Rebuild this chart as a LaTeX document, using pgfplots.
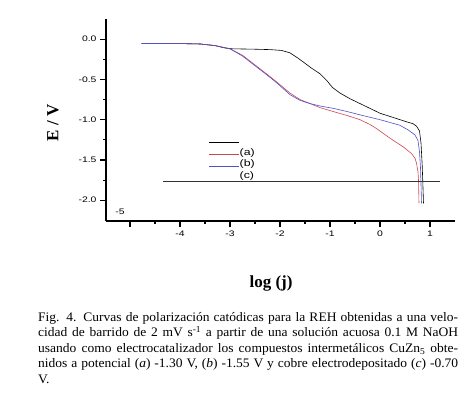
\documentclass[border=0pt]{standalone}
\usepackage{fontspec}
\setmainfont{Liberation Serif}
\newfontfamily\tickfont[FakeStretch=1.3]{Liberation Sans}
\newfontfamily\capfont[FakeStretch=1.04]{Liberation Serif}
\usepackage{pgfplots}
\pgfplotsset{compat=1.18}
\definecolor{cred}{RGB}{205,70,80}
\definecolor{cblue}{RGB}{80,80,200}
\newcommand{\capline}[1]{\makebox[420pt][s]{#1}}
\begin{document}
\begin{tikzpicture}
\useasboundingbox (0,0) rectangle (474pt,-399pt);
\begin{axis}[
  at={(106pt,-221pt)}, anchor=south west,
  scale only axis, width=349pt, height=202pt,
  xmin=-5.48, xmax=1.5, ymin=-2.258, ymax=0.25,
  axis lines=left, axis line style={line width=1.3pt, -},
  xtick={-5,-4,-3,-2,-1,0,1}, xticklabels={,-4,-3,-2,-1,0,1},
  minor x tick num=1,
  ytick={-2,-1.5,-1,-0.5,0}, minor y tick num=1,
  yticklabel style={/pgf/number format/.cd, fixed, fixed zerofill, precision=1},
  /pgf/number format/assume math mode=true,
  tick label style={font=\tickfont\fontsize{8}{8}\selectfont},
  tick align=outside, major tick length=6pt, minor tick length=3pt,
  every tick/.style={line width=1.1pt, black},
  xlabel={\bfseries log (j)},
  xlabel style={at={(axis description cs:0.473,-0.307)}, anchor=center, font=\fontsize{17}{17}\selectfont},
  ylabel={\bfseries E / V},
  ylabel style={at={(axis description cs:-0.152,0.485)}, anchor=center, font=\fontsize{17}{17}\selectfont},
  legend style={at={(axis cs:-3.42,-1.20)}, anchor=north west, draw=none, fill=none,
    font=\tickfont\fontsize{9.5}{9.5}\selectfont, inner sep=0pt, row sep=1.7pt,
    nodes={inner sep=0.5pt, text height=7pt, text depth=2pt}},
  legend cell align=left,
  legend image code/.code={\path[use as bounding box, draw=none, fill=none] (0pt,-0.5pt) rectangle (30pt,0.5pt);
    \draw[#1] (0pt,-1.6pt) -- (30pt,-1.6pt);},
]
\addplot[black, line width=0.6pt] coordinates {
(-4.77,-0.054) (-4.0,-0.055) (-3.6,-0.06) (-3.3,-0.08) (-3.1,-0.11) (-2.95,-0.12)
(-2.5,-0.125) (-2.2,-0.13) (-1.97,-0.14) (-1.8,-0.17) (-1.63,-0.24) (-1.5,-0.30)
(-1.37,-0.36) (-1.2,-0.43) (-1.07,-0.51) (-0.95,-0.60) (-0.8,-0.67) (-0.6,-0.74)
(-0.4,-0.80) (-0.2,-0.86) (0,-0.92) (0.2,-0.96) (0.4,-1.0) (0.55,-1.03) (0.66,-1.05)
(0.73,-1.08) (0.79,-1.14) (0.82,-1.29) (0.845,-1.58) (0.86,-1.85) (0.87,-2.04)
};
\addlegendentry{}
\addplot[cred, line width=0.6pt] coordinates {
(-4.77,-0.054) (-4.0,-0.055) (-3.6,-0.06) (-3.3,-0.08) (-3.0,-0.12) (-2.75,-0.2)
(-2.5,-0.32) (-2.25,-0.44) (-2.07,-0.53) (-1.8,-0.67) (-1.6,-0.75) (-1.4,-0.80)
(-1.2,-0.85) (-0.93,-0.90) (-0.65,-0.95) (-0.4,-1.0) (-0.2,-1.06) (-0.07,-1.11)
(0.2,-1.23) (0.47,-1.34) (0.63,-1.42) (0.7,-1.48) (0.73,-1.54) (0.76,-1.65)
(0.77,-1.75) (0.775,-1.9) (0.78,-2.04)
};
\addlegendentry{(a)}
\addplot[cblue, line width=0.6pt] coordinates {
(-4.77,-0.054) (-4.0,-0.055) (-3.6,-0.06) (-3.3,-0.08) (-3.0,-0.12) (-2.75,-0.21)
(-2.5,-0.33) (-2.25,-0.45) (-2.07,-0.54) (-1.8,-0.69) (-1.6,-0.76) (-1.4,-0.80)
(-1.2,-0.83) (-0.93,-0.86) (-0.65,-0.90) (-0.4,-0.94) (-0.2,-0.97) (0,-1.0)
(0.2,-1.035) (0.4,-1.07) (0.57,-1.13) (0.7,-1.19) (0.76,-1.26) (0.79,-1.40)
(0.81,-1.60) (0.82,-1.8) (0.83,-2.04)
};
\addlegendentry{(b)}
\addlegendimage{empty legend}
\addlegendentry{(c)}
\addplot[black!80, line width=0.5pt, forget plot] coordinates {(-4.34,-1.768) (1.2,-1.768)};
\node[font=\tickfont\fontsize{8}{8}\selectfont] at (axis cs:-5.2,-2.14) {-5};
\end{axis}
\node[anchor=north west, inner sep=0pt, align=left,
  font=\capfont\fontsize{13}{15.5}\selectfont] at (38pt,-312pt) {%
\capline{Fig. 4. Curvas de polarización catódicas para la REH obtenidas a una velo-}\\
\capline{cidad de barrido de 2 mV s\textsuperscript{-1} a partir de una solución acuosa 0.1 M NaOH}\\
\capline{usando como electrocatalizador los compuestos intermetálicos CuZn\textsubscript{5} obte-}\\
\capline{nidos a potencial (\textit{a}) -1.30 V, (\textit{b}) -1.55 V y cobre electrodepositado (\textit{c}) -0.70}\\
V.};
\end{tikzpicture}
\end{document}
